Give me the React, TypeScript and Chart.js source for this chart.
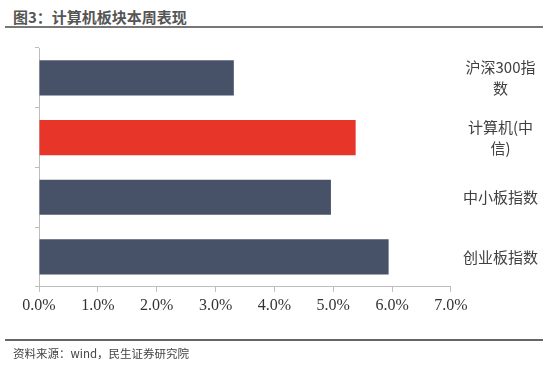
import React, { useEffect, useRef } from "react";
import { Chart, registerables } from "chart.js";

Chart.register(...registerables);

const categories: string[][] = [["沪深300指", "数"], ["计算机(中", "信)"], ["中小板指数"], ["创业板指数"]];
const values: number[] = [3.31, 5.38, 4.96, 5.94];
const barColors: string[] = ["#475269", "#E8352A", "#475269", "#475269"];
const xTicks: number[] = [0, 1, 2, 3, 4, 5, 6, 7];

export default function App() {
  const ref = useRef<HTMLCanvasElement | null>(null);
  useEffect(() => {
    if (!ref.current) return;
    const chart = new Chart(ref.current, {
      type: "bar",
      data: {
        labels: categories,
        datasets: [
          {
            data: values,
            backgroundColor: barColors,
            borderWidth: 0,
            barPercentage: 0.59,
            categoryPercentage: 1,
            yAxisID: "y",
          },
        ],
      },
      options: {
        indexAxis: "y",
        animation: false,
        responsive: false,
        maintainAspectRatio: false,
        layout: { padding: { left: 35, right: 0, top: 48, bottom: 46 } },
        plugins: { legend: { display: false }, tooltip: { enabled: false } },
        scales: {
          x: {
            min: 0,
            max: 7,
            afterBuildTicks: (axis: any) => {
              axis.ticks = xTicks.map((v) => ({ value: v }));
            },
            grid: { drawOnChartArea: false, tickLength: 5, color: "#bdbdbd" },
            border: { color: "#bdbdbd", width: 1 },
            ticks: {
              padding: 4,
              color: "#333",
              font: { family: "'Liberation Serif', 'DejaVu Serif', serif", size: 16 },
              callback: (v: any) => Number(v).toFixed(1) + "%",
            },
          },
          y: {
            position: "left",
            grid: { drawOnChartArea: false, tickLength: 4, color: "#bdbdbd", offset: true },
            border: { color: "#bdbdbd", width: 1 },
            ticks: { display: false },
          },
          y2: {
            type: "category",
            position: "right",
            offset: true,
            grid: { display: false, drawTicks: false },
            border: { display: false },
            ticks: {
              padding: 12,
              crossAlign: "center",
              color: "#404040",
              font: { family: "'Noto Sans CJK SC', sans-serif", size: 15, lineHeight: 1.4 },
            },
          },
        },
      },
    } as any);
    return () => chart.destroy();
  }, []);

  return (
    <div style={{ position: "fixed", left: 0, top: 0, width: 550, height: 365, background: "#fff", overflow: "hidden" }}>
      <div
        style={{
          position: "absolute",
          left: 13,
          top: 7,
          fontFamily: "'Noto Sans CJK SC', sans-serif",
          fontWeight: 700,
          fontSize: 15,
          lineHeight: "20px",
          color: "#555",
          whiteSpace: "nowrap",
        }}
      >
        图3：计算机板块本周表现
      </div>
      <div style={{ position: "absolute", left: 5, top: 26, width: 538, height: 2, background: "#777" }} />
      <canvas ref={ref} width={550} height={365} style={{ position: "absolute", left: 0, top: 0 }} />
      <div style={{ position: "absolute", left: 5, top: 339, width: 538, height: 2, background: "#666" }} />
      <div
        style={{
          position: "absolute",
          left: 13,
          top: 344,
          fontFamily: "'Noto Sans CJK SC', sans-serif",
          fontSize: 11.5,
          lineHeight: "18px",
          color: "#444",
          whiteSpace: "nowrap",
        }}
      >
        资料来源：wind，民生证券研究院
      </div>
    </div>
  );
}
